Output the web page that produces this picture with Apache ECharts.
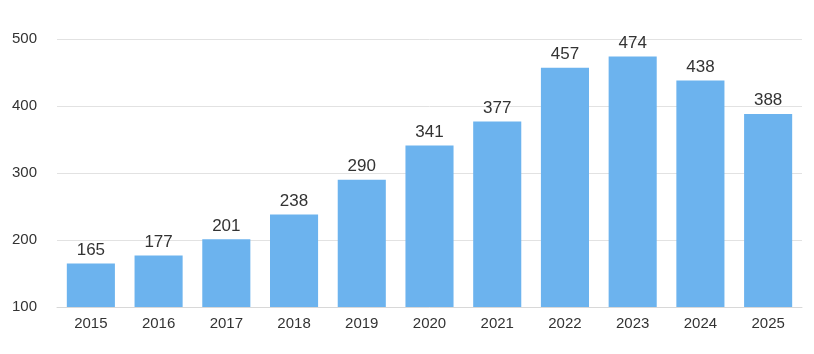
<!DOCTYPE html>
<html><head><meta charset="utf-8">
<script src="https://cdn.jsdelivr.net/npm/echarts@6/dist/echarts.min.js"></script>
<style>html,body{margin:0;padding:0;background:#fff}#c{width:814px;height:354px}</style>
</head><body><div id="c"></div>
<script>
const categories = ['2015','2016','2017','2018','2019','2020','2021','2022','2023','2024','2025'];
const values = [165,177,201,238,290,341,377,457,474,438,388];
const yTicks = [100,200,300,400,500];

const chart = echarts.init(document.getElementById('c'));
chart.setOption({
  animation: false,
  grid: {left: 57, right: 12, top: 39, bottom: 47},
  xAxis: {
    type: 'category', data: categories,
    axisLine: {lineStyle: {color: '#d8d8d8'}},
    axisTick: {show: false},
    axisLabel: {color: '#333', fontSize: 15, margin: 9, fontFamily: 'Liberation Sans, Arial'}
  },
  yAxis: {
    type: 'value', min: yTicks[0], max: yTicks[yTicks.length-1], interval: 100,
    axisLine: {show: false}, axisTick: {show: false},
    axisLabel: {color: '#333', fontSize: 15, margin: 20, fontFamily: 'Liberation Sans, Arial'},
    splitLine: {lineStyle: {color: '#e2e2e2'}}
  },
  series: [{
    type: 'bar', data: values, barWidth: '71%',
    itemStyle: {color: '#6cb3ee'},
    label: {show: true, position: 'top', color: '#333', fontSize: 17, distance: 5, fontFamily: 'Liberation Sans, Arial'}
  }]
});
</script></body></html>
